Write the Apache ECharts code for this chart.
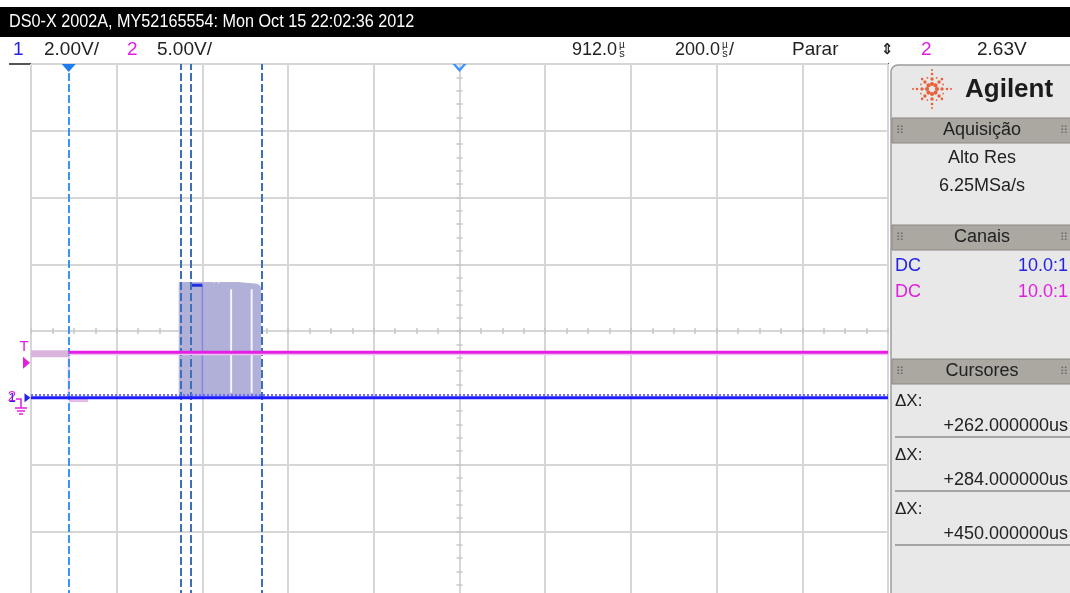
<!DOCTYPE html>
<html><head><meta charset="utf-8">
<script src="https://cdn.jsdelivr.net/npm/echarts@6/dist/echarts.min.js"></script>
<style>html,body{margin:0;padding:0;background:#fff}#c{width:1070px;height:593px}</style>
</head><body><div id="c"></div>
<script>
const timeRange = [-88, 1912];      // us : delay 912.0us, 200us/div, 10 div
const ch1Range = [-6, 10];          // V  : 2.00V/div, 8 div, ground 1 div below centre
const ch2Range = [-15, 25];         // V  : 5.00V/div
const divX = [-5, 5];
const divY = [-4, 4];
const cursorTimes = [0, 262, 284, 450];
const triggerTime = 0;
const delayTime = 912;
const triggerLevel = 2.63;

const ch1BaseTimes = [-88, 1912];
const ch1BaseVolts = [0, 0];
const ch1NoiseVolts = [0.08, 0.08];
const burstTimes = [258, 258, 338, 339, 341, 348, 350, 352, 395, 396, 440, 446, 448, 448];
const burstVolts = [0, 3.45, 3.45, 3.39, 3.45, 3.45, 3.39, 3.45, 3.45, 3.40, 3.40, 3.35, 3.25, 0];
const burstTopTimes = [286, 312];
const burstTopVolts = [3.37, 3.37];
const burstEdgeTimes = [312, 312];
const burstEdgeVolts = [3.37, 0];
const gapTimes = [379, 427];
const gapVolts = [0.15, 3.25];

const ch2PreTimes = [-88, 0];
const ch2PreVolts = [3.3, 3.3];
const ch2Times = [0, 1912];
const ch2Volts = [3.41, 3.41];
const ch2ShadowVolts = [3.3, 3.3];
const ch2EdgeTimes = [0, 0];
const ch2EdgeVolts = [3.3, 0];
const ch2LowTimes = [0, 45];
const ch2LowVolts = [-0.2, -0.2];

const cursorDeltas = ['+262.000000us', '+284.000000us', '+450.000000us'];
// -------------------------------------------------------------------

const zip = (a, b) => a.map((v, i) => [v, b[i]]);
const F = '"Liberation Sans",sans-serif';
const GRID = '#d6d6d6';

function tickAxis(dim, inside, idx) {
  const base = dim === 'x'
    ? { min: divX[0], max: divX[1], interval: 0.25 }
    : { min: divY[0], max: divY[1], interval: 0.2 };
  return Object.assign({
    type: 'value',
    axisLine: { show: true, onZero: true, onZeroAxisIndex: idx, lineStyle: { color: GRID, width: 2 } },
    axisTick: { show: true, inside: inside, length: 3, lineStyle: { color: '#c6c6c6', width: 1.5 } },
    axisLabel: { show: false }, splitLine: { show: false }, splitArea: { show: false }
  }, base);
}

const line = (name, data, color, width, y, z, extra) => Object.assign({
  name, type: 'line', data, xAxisIndex: 0, yAxisIndex: y, symbol: 'none', silent: true,
  animation: false, z: z, lineStyle: { color, width }
}, extra || {});

function text(x, y, s, font, fill, align, sx) {
  return { type: 'text', x, y, scaleX: sx || 1, silent: true, style: { text: s, font, fill, align: align || 'left', verticalAlign: 'middle' } };
}
const g = [];
function unitText(x, y, num, tail) {
  g.push(text(x, y, num, '18px ' + F, '#222'));
  const w = echarts.format.getTextRect ? 0 : 0;
  return w;
}

// top bars
g.push({ type: 'rect', shape: { x: 0, y: 7, width: 1070, height: 30 }, style: { fill: '#000' } });
g.push(text(9, 22, 'DS0-X 2002A, MY52165554: Mon Oct 15 22:02:36 2012', '18px ' + F, '#fff', 'left', 0.9));
g.push(text(13, 50, '1', '19px ' + F, '#2323e6'));
g.push(text(44, 50, '2.00V/', '19px ' + F, '#222'));
g.push(text(127, 50, '2', '19px ' + F, '#e020e0'));
g.push(text(157, 50, '5.00V/', '19px ' + F, '#222'));
// 912.0 us (stacked micro-seconds as on the scope)
g.push(text(572, 50, '912.0', '18px ' + F, '#222'));
g.push(text(622, 45, 'µ', '10px ' + F, '#222', 'center'));
g.push(text(622, 54, 's', '11px ' + F, '#222', 'center'));
g.push(text(675, 50, '200.0', '18px ' + F, '#222'));
g.push(text(725, 45, 'µ', '10px ' + F, '#222', 'center'));
g.push(text(725, 54, 's', '11px ' + F, '#222', 'center'));
g.push(text(729, 50, '/', '18px ' + F, '#222'));
g.push(text(792, 50, 'Parar', '19px ' + F, '#222'));
g.push(text(887, 50, '⇕', 'bold 15px "DejaVu Sans"', '#222', 'center'));
g.push(text(921, 50, '2', '19px ' + F, '#e020e0'));
g.push(text(977, 50, '2.63V', '19px ' + F, '#222'));
g.push({ type: 'line', shape: { x1: 9, y1: 64, x2: 31, y2: 64 }, style: { stroke: '#555', lineWidth: 2 } });

// left channel markers
g.push(text(24, 347, 'T', '15px ' + F, '#e020e0', 'center'));
g.push(text(12, 397, '2', '15px ' + F, '#e020e0', 'center'));
g.push(text(12, 398, '1', '13px ' + F, '#2323e6', 'center'));
g.push({ type: 'polyline', shape: { points: [[16, 399], [21, 399], [21, 408]] }, style: { stroke: '#e020e0', lineWidth: 1.5, fill: null } });
g.push({ type: 'line', shape: { x1: 15, y1: 408, x2: 27, y2: 408 }, style: { stroke: '#e020e0', lineWidth: 1.5 } });
g.push({ type: 'line', shape: { x1: 17, y1: 411, x2: 25, y2: 411 }, style: { stroke: '#e020e0', lineWidth: 1.5 } });
g.push({ type: 'line', shape: { x1: 19, y1: 414, x2: 23, y2: 414 }, style: { stroke: '#e020e0', lineWidth: 1.5 } });

// right panel
g.push({ type: 'rect', shape: { x: 891, y: 65, width: 200, height: 560, r: [7, 0, 0, 0] }, style: { fill: '#e8e8e8', stroke: '#9c9c9c', lineWidth: 1.5 } });
(function () {
  const cx = 932, cy = 89, col = '#e8603c';
  for (let k = 0; k < 8; k++) {
    const a = k * Math.PI / 4;
    const dists = k % 2 === 0 ? [5, 10, 15, 19] : [5, 10, 14];
    dists.forEach((d, j) => {
      g.push({ type: 'circle', shape: { cx: cx + d * Math.cos(a), cy: cy + d * Math.sin(a), r: [2.1, 1.7, 1.3, 1][j] }, style: { fill: col }, silent: true });
    });
  }
  for (let k = 0; k < 8; k++) {
    const a = k * Math.PI / 4 + Math.PI / 8;
    g.push({ type: 'circle', shape: { cx: cx + 12 * Math.cos(a), cy: cy + 12 * Math.sin(a), r: 0.9 }, style: { fill: col }, silent: true });
  }
})();
g.push(text(965, 90, 'Agilent', 'bold 26px ' + F, '#1b1b1b'));

function header(y0, label) {
  g.push({ type: 'rect', shape: { x: 892, y: y0, width: 180, height: 25 }, style: { fill: '#aba7a1', stroke: '#8c8883', lineWidth: 1 } });
  g.push(text(982, y0 + 12.5, label, '18px ' + F, '#222', 'center'));
  g.push(text(900, y0 + 13, '⠿', '11px "DejaVu Sans"', '#6e6a66', 'center'));
  g.push(text(1064, y0 + 13, '⠿', '11px "DejaVu Sans"', '#6e6a66', 'center'));
}
header(118, 'Aquisição');
g.push(text(982, 158, 'Alto Res', '18px ' + F, '#222', 'center'));
g.push(text(982, 186, '6.25MSa/s', '18px ' + F, '#222', 'center'));
header(225, 'Canais');
g.push(text(895, 266, 'DC', '18px ' + F, '#2323e6'));
g.push(text(1068, 266, '10.0:1', '18px ' + F, '#2323e6', 'right'));
g.push(text(895, 292, 'DC', '18px ' + F, '#e020e0'));
g.push(text(1068, 292, '10.0:1', '18px ' + F, '#e020e0', 'right'));
header(359, 'Cursores');
cursorDeltas.forEach((s, i) => {
  const y0 = 385 + i * 54;
  g.push(text(895, y0 + 16, 'ΔX:', '17px ' + F, '#222'));
  g.push(text(1068, y0 + 41, s, '18px ' + F, '#222', 'right'));
  g.push({ type: 'line', shape: { x1: 895, y1: y0 + 52, x2: 1070, y2: y0 + 52 }, style: { stroke: '#8e8e8e', lineWidth: 1.5 } });
});

const cursorLines = cursorTimes.map((t, i) => ({
  xAxis: t,
  lineStyle: { color: i === 0 ? '#3b94f2' : '#3d70ba', width: 2, type: [8, 3] }
}));

const option = {
  animation: false,
  backgroundColor: '#fff',
  grid: { left: 31, top: 64, width: 857, height: 534, show: true, borderColor: '#555', borderWidth: 2, backgroundColor: '#fff', outerBoundsMode: 'none', containLabel: false },
  xAxis: [
    { type: 'value', min: timeRange[0], max: timeRange[1], show: false },
    { type: 'value', min: divX[0], max: divX[1], interval: 1, axisLine: { show: false }, axisTick: { show: false }, axisLabel: { show: false }, splitLine: { show: true, lineStyle: { color: GRID, width: 2 } } },
    tickAxis('x', true, 0),
    tickAxis('x', false, 0)
  ],
  yAxis: [
    { type: 'value', min: divY[0], max: divY[1], interval: 1, axisLine: { show: false }, axisTick: { show: false }, axisLabel: { show: false }, splitLine: { show: true, lineStyle: { color: GRID, width: 2 } } },
    { type: 'value', min: ch1Range[0], max: ch1Range[1], show: false },
    { type: 'value', min: ch2Range[0], max: ch2Range[1], show: false },
    tickAxis('y', true, 1),
    tickAxis('y', false, 1)
  ],
  series: [
    line('ch2 pre-trigger', zip(ch2PreTimes, ch2PreVolts), '#dbb4db', 7, 2, 2),
    line('ch2 edge', zip(ch2EdgeTimes, ch2EdgeVolts), '#eab9ea', 2, 2, 2),
    line('ch2 low', zip(ch2LowTimes, ch2LowVolts), '#e6bce6', 3, 2, 2),
    line('ch1 burst', zip(burstTimes, burstVolts), '#b0b0d8', 1, 1, 3, { areaStyle: { color: '#b0b0d8', opacity: 1 } }),
    line('gap1', [[gapTimes[0], gapVolts[0]], [gapTimes[0], gapVolts[1]]], '#f4f4fa', 2, 1, 4),
    line('gap2', [[gapTimes[1], gapVolts[0]], [gapTimes[1], gapVolts[1]]], '#f4f4fa', 2, 1, 4),
    line('ch1 burst edge', zip(burstEdgeTimes, burstEdgeVolts), '#8585e6', 1.5, 1, 4),
    line('ch1 burst top', zip(burstTopTimes, burstTopVolts), '#2030e0', 3, 1, 4),
    line('ch2 shadow', zip(ch2Times, ch2ShadowVolts), '#eec2ee', 3, 2, 5),
    line('ch2', zip(ch2Times, ch2Volts), '#e41ee4', 3, 2, 6, {
      markPoint: {
        silent: true, animation: false,
        data: [
          { coord: [timeRange[0], triggerLevel], symbol: 'triangle', symbolSize: [12, 7], symbolRotate: -90, symbolOffset: [-4.5, 0], itemStyle: { color: '#e020e0' }, label: { show: false } }
        ]
      }
    }),
    line('ch1 noise', zip(ch1BaseTimes, ch1NoiseVolts), '#6b6bff', 2, 1, 6, { lineStyle: { color: '#6b6bff', width: 2, type: [2, 2] } }),
    line('ch1', zip(ch1BaseTimes, ch1BaseVolts), '#1c1cff', 3, 1, 7, {
      markLine: { silent: true, animation: false, symbol: ['none', 'none'], label: { show: false }, data: cursorLines },
      markPoint: {
        silent: true, animation: false,
        data: [
          { coord: [triggerTime, ch1Range[1]], symbol: 'triangle', symbolSize: [14, 8], symbolRotate: 180, symbolOffset: [0, 4], itemStyle: { color: '#1e7cf0' }, label: { show: false } },
          { coord: [delayTime, ch1Range[1]], symbol: 'path://M0,0 L3,0 L7,4.5 L11,0 L14,0 L7,8 Z', symbolSize: [14, 8], symbolOffset: [0, 4], itemStyle: { color: '#3a92ff' }, label: { show: false } },
          { coord: [timeRange[0], 0], symbol: 'triangle', symbolSize: [9, 6], symbolRotate: -90, symbolOffset: [-3.5, 0], itemStyle: { color: '#2323e6' }, label: { show: false } }
        ]
      }
    })
  ],
  graphic: { elements: g }
};

const chart = echarts.init(document.getElementById('c'), null, { renderer: 'canvas' });
chart.setOption(option);
</script></body></html>
